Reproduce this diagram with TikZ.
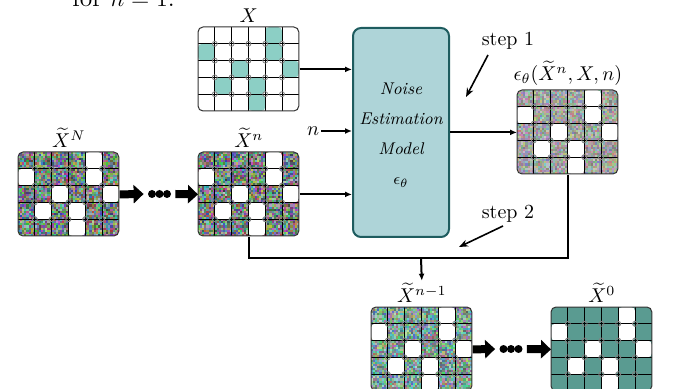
\documentclass[tikz,border=0pt]{standalone}
\usepackage{amsmath,amssymb}
\usepackage{tikz}
\usepackage{xcolor}
\usetikzlibrary{arrows.meta,positioning}

\definecolor{cellteal}{HTML}{8CCFC5}
\definecolor{darkteal}{HTML}{5A9B91}
\definecolor{modelfill}{HTML}{AED4D8}
\definecolor{modeldraw}{HTML}{1E5C5F}
\definecolor{noiseA}{HTML}{6E8C80}
\definecolor{noiseB}{HTML}{B5B8B4}
\definecolor{noiseC}{HTML}{80C0B0}

\tikzset{
  gridbox/.style={anchor=north west, minimum width=50.4pt, minimum height=42pt, inner sep=0pt},
  lbl/.style={inner sep=1pt, font=\fontsize{10}{12}\selectfont},
  flow/.style={line width=1pt, -{Latex[length=3.5pt,width=3pt]}},
  block/.style={line width=4pt, -{Triangle[length=5pt,width=9pt]}},
  dotrow/.style={minimum width=15.5pt, minimum height=5pt, inner sep=0pt},
  pointer/.style={line width=0.8pt, -{Stealth[length=4.5pt,width=3.5pt]}},
}

% random coloured pixels over one grid
\newcommand{\noisefill}[2]{%
  \foreach \gi in {0,...,47}{\foreach \gj in {0,...,39}{%
    \pgfmathsetmacro{\rndR}{rnd}\pgfmathsetmacro{\rndG}{rnd}\pgfmathsetmacro{\rndB}{rnd}%
    \definecolor{nz}{rgb}{\rndR,\rndG,\rndB}%
    \fill[nz!#1!#2] (\gi*2.1,\gj*2.1) rectangle ++(2.2,2.2);}}}

\newcommand{\holes}[1]{%
  \foreach \gi/\gj in {4/0,0/1,4/1,2/2,5/2,1/3,3/3,3/4}
    \fill[#1, rounded corners=2pt] (\gi*16.8,\gj*16.8) rectangle ++(16.8,16.8);}

\newcommand{\cellgrid}[3]{%
  \begin{scope}[shift={(#1.north west)}]
    \begin{scope}
      \clip[rounded corners=2.5pt] (0,0) rectangle (100.8,84);
      #2
      \holes{#3}
    \end{scope}
    \foreach \gi in {1,...,5} \draw[line width=0.4pt] (\gi*16.8,0) -- (\gi*16.8,84);
    \foreach \gj in {1,...,4} \draw[line width=0.4pt] (0,\gj*16.8) -- (100.8,\gj*16.8);
    \foreach \gi in {1,...,5} \foreach \gj in {1,...,4}
      \draw[gray, line width=0.4pt] (\gi*16.8,\gj*16.8) circle (2.5);
    \draw[black!80, line width=0.5pt, rounded corners=2.5pt] (0,0) rectangle (100.8,84);
  \end{scope}}

\begin{document}
\begin{tikzpicture}[x=0.5pt, y=-0.5pt]
\useasboundingbox (0,0) rectangle (673,389);
\clip (0,0) rectangle (673,389);
\pgfmathsetseed{7}

\node[anchor=base west, inner sep=0pt, font=\fontsize{12.7}{15}\selectfont] (cap) at (72,7) {for $n=1$.};

\node[gridbox] (gX) at (198,27) {};
\node[gridbox] (gXN) at (18,152) {};
\node[gridbox] (gXn) at (198,152) {};
\node[gridbox] (gEps) at (517,90) {};
\node[gridbox] (gXm) at (371,307) {};
\node[gridbox] (gX0) at (551,307) {};

\cellgrid{gX}{\fill[white] (0,0) rectangle (100.8,84);}{cellteal}
\cellgrid{gXN}{\noisefill{60}{noiseA}}{white}
\cellgrid{gXn}{\noisefill{60}{noiseA}}{white}
\cellgrid{gEps}{\noisefill{35}{noiseB}}{white}
\cellgrid{gXm}{\noisefill{50}{noiseC}}{white}
\cellgrid{gX0}{\fill[darkteal] (0,0) rectangle (100.8,84);}{white}

\node[lbl, above=1pt of gX] (lX) {$X$};
\node[lbl, above=1pt of gXN] (lXN) {$\widetilde{X}^{N}$};
\node[lbl, above=1pt of gXn] (lXn) {$\widetilde{X}^{n}$};
\node[lbl, above=1pt of gEps] (lEps) {$\epsilon_{\theta}(\widetilde{X}^{n},X,n)$};
\node[lbl, above=1pt of gXm] (lXm) {$\widetilde{X}^{n-1}$};
\node[lbl, above=1pt of gX0] (lX0) {$\widetilde{X}^{0}$};

\node[draw=modeldraw, fill=modelfill, line width=1pt, rounded corners=4pt, minimum width=48pt, minimum height=104.5pt, anchor=north west] (model) at (352,27) {};
\node[align=center, font=\itshape\fontsize{8.5}{15}\selectfont] (modeltxt) at ([yshift=-1.5pt]model.center) {Noise\\Estimation\\Model\\$\epsilon_{\theta}$};

\node[lbl] (nin) at (313,131) {$n$};

\draw[flow] (gX.east) -- (gX.east -| model.west);
\draw[flow] (nin.east) -- (nin.east -| model.west);
\draw[flow] (gXn.east) -- (gXn.east -| model.west);
\draw[flow] (model.east |- gEps.west) -- (gEps.west);

\coordinate (fbk) at (421,258);
\draw[line width=1pt] (gEps.south) |- (fbk) -| (gXn.south);
\draw[flow] (fbk) -- (lXm.north);

\node[dotrow] (dN) at (159.5,194) {};
\foreach \dx in {-7.5,0,7.5} \fill (dN.center) ++(\dx,0) circle (4);
\draw[block] (gXN.east) -- (dN.west);
\draw[block] (dN.east) -- (gXn.west);

\node[dotrow] (dM) at (511,349) {};
\foreach \dx in {-7.5,0,7.5} \fill (dM.center) ++(\dx,0) circle (4);
\draw[block] (gXm.east) -- (dM.west);
\draw[block] (dM.east) -- (gX0.west);

\node (s1) at (508,41) {step 1};
\coordinate (s1a) at (488,55);
\coordinate (s1b) at (466,97);
\draw[pointer] (s1a) -- (s1b);
\node (s2) at (508,214) {step 2};
\coordinate (s2a) at (503,226);
\coordinate (s2b) at (459,247);
\draw[pointer] (s2a) -- (s2b);
\end{tikzpicture}
\end{document}
